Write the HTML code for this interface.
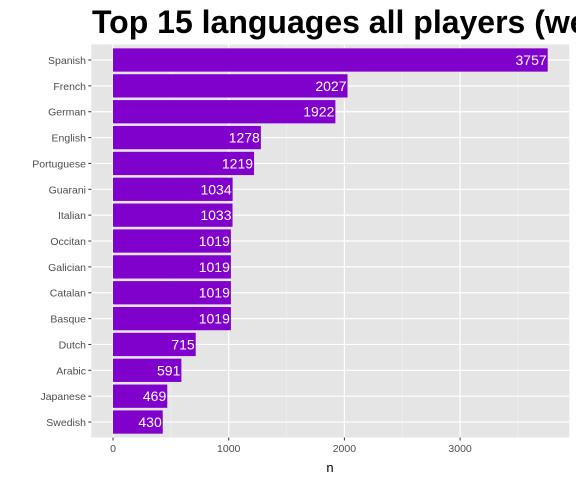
<!DOCTYPE html>
<html><head><meta charset="utf-8"><style>body{margin:0;background:#fff}svg{display:block;font-family:"Liberation Sans",sans-serif}</style></head>
<body>
<svg id="c" width="576" height="480">
<text x="92" y="33" font-size="32" font-weight="bold" fill="#000">Top 15 languages all players (weighted)</text>
<rect x="91.3" y="44.5" width="478" height="393" fill="#e5e5e5"/>
<g id="g"></g>
<text x="330" y="472" font-size="13" text-anchor="middle" fill="#000">n</text>
</svg>
<script>
const categories=["Spanish","French","German","English","Portuguese","Guarani","Italian","Occitan","Galician","Catalan","Basque","Dutch","Arabic","Japanese","Swedish"];
const values=[3757,2027,1922,1278,1219,1034,1033,1019,1019,1019,1019,715,591,469,430];
const xTicks=[0,1000,2000,3000];
const ns="http://www.w3.org/2000/svg",g=document.getElementById('g');
const x0=113,kx=0.11570;
const X=v=>x0+v*kx;
const top0=60,step=25.86;
const Y=i=>top0+i*step;
function mk(t,a){const e=document.createElementNS(ns,t);for(const k in a)e.setAttribute(k,a[k]);g.appendChild(e);return e;}
for(let v=500;v<4000;v+=1000){const l=mk('line',{x1:X(v),x2:X(v),y1:44.5,y2:437.5,stroke:'#f2f2f2','stroke-width':0.6});

}
xTicks.forEach(v=>{const l=mk('line',{x1:X(v),x2:X(v),y1:44.5,y2:437.5,stroke:'#fff','stroke-width':1.2});


mk('line',{x1:X(v),x2:X(v),y1:437.5,y2:440.5,stroke:'#333','stroke-width':1});
const t=mk('text',{x:X(v),y:452,'font-size':10.5,'text-anchor':'middle',fill:'#4d4d4d'});t.textContent=v;

});
categories.forEach((c,i)=>{const y=Y(i);
const l=mk('line',{x1:91.3,x2:569.3,y1:y,y2:y,stroke:'#fff','stroke-width':1.2});


mk('line',{x1:88.3,x2:91.3,y1:y,y2:y,stroke:'#333','stroke-width':1});
const r=mk('rect',{x:X(0),y:y-step*0.45,width:X(values[i])-X(0),height:step*0.9,fill:'#8000cc'});


const t=mk('text',{x:86,y:y+4,'font-size':10.5,'text-anchor':'end',fill:'#4d4d4d'});t.textContent=c;


const v=mk('text',{x:X(values[i])-1,y:y+5,'font-size':14,'text-anchor':'end',fill:'#fff'});v.textContent=values[i];

});
</script>
</body></html>
